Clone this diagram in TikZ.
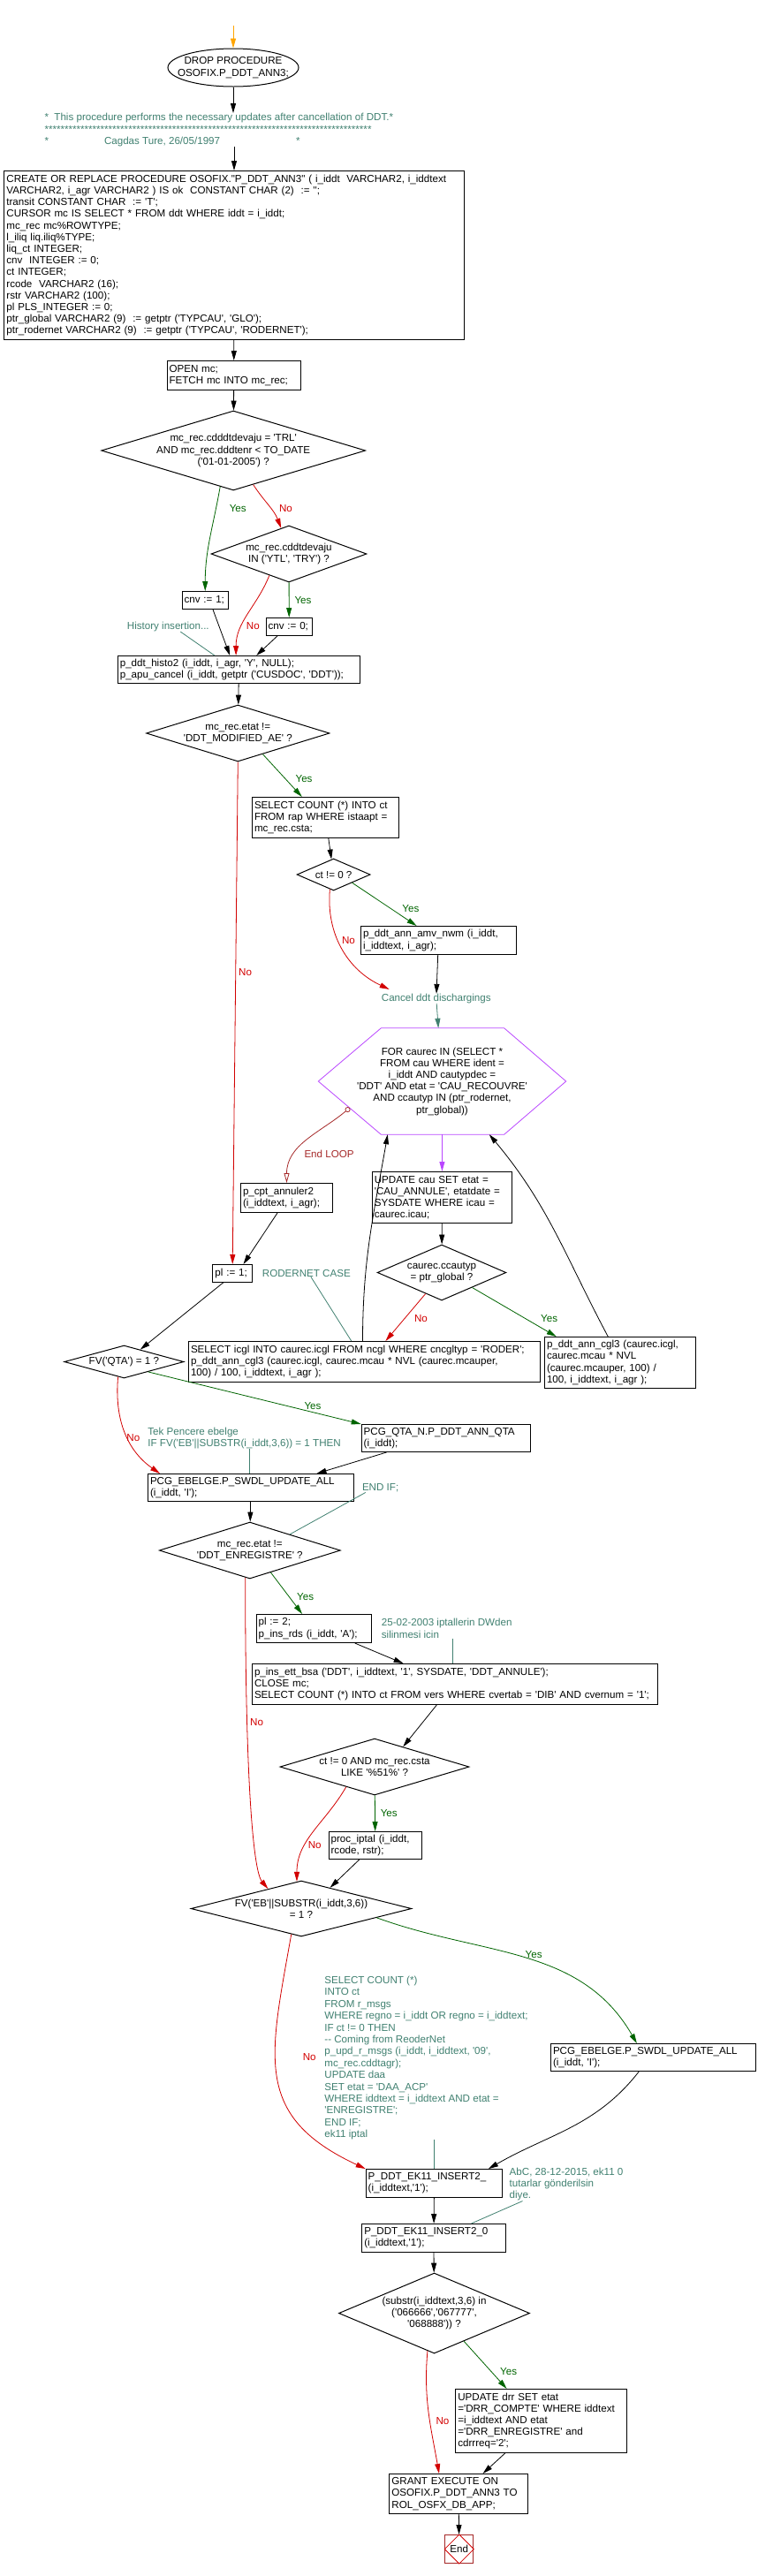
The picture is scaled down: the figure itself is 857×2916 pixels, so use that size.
\documentclass[tikz,border=0pt]{standalone}
\usepackage{fontspec}
\setmainfont{Liberation Sans}[Ligatures=TeXOff]
\usetikzlibrary{arrows.meta,shapes.geometric,calc}
\definecolor{yescol}{RGB}{0,100,0}
\definecolor{nocol}{RGB}{210,0,0}
\definecolor{notecol}{RGB}{64,128,112}
\definecolor{loopcol}{RGB}{185,70,255}
\definecolor{endloopcol}{RGB}{165,40,40}
\definecolor{startcol}{RGB}{255,165,0}
\begin{document}
\begin{tikzpicture}[
        x=1pt, y=-1pt,
        every node/.style={font=\fontsize{11.6}{13.2}\selectfont},
        box/.style={draw, line width=1pt, fill=white, anchor=north west, align=left, inner xsep=2.5pt, inner ysep=0pt},
        cond/.style={diamond, draw, line width=1pt, inner sep=0pt},
        ctext/.style={align=center, inner sep=0pt},
        note/.style={text=notecol, anchor=west, align=left, inner sep=0pt, font=\fontsize{11.6}{13.4}\selectfont},
        lbl/.style={anchor=west, inner sep=0pt},
        ed/.style={line width=0.8pt, -{Triangle[length=11pt,width=6pt]}},
        yesed/.style={ed, yescol},
        noed/.style={ed, nocol},
        noteed/.style={line width=0.8pt, notecol}
      ]
      \useasboundingbox (0,0) rectangle (857,2916);
      \coordinate (entry) at (264,29);
      \node[draw, ellipse, line width=1pt, minimum width=148pt, minimum height=43pt, inner sep=0pt,
        label={[ctext]center:{DROP PROCEDURE\\OSOFIX.P\_DDT\_ANN3;}}] (drop) at (264,76.5) {};
      \node[note] (hdr) at (50.3,147) {*\ \ This procedure performs the necessary updates after cancellation of DDT.*\\
        **********************************************************************************\\
        *\hspace{63pt}Cagdas Ture, 26/05/1997\hspace{86pt}*};
      \node[box, text width=515.2pt, minimum height=191pt] (decl) at (4.4,193) {CREATE OR REPLACE PROCEDURE OSOFIX."P\_DDT\_ANN3" ( i\_iddt\ \ VARCHAR2, i\_iddtext\\
        VARCHAR2, i\_agr VARCHAR2 ) IS ok\ \ CONSTANT CHAR (2)\ \ := '';\\
        transit CONSTANT CHAR\ \ := 'T';\\
        CURSOR mc IS SELECT * FROM ddt WHERE iddt = i\_iddt;\\
        mc\_rec mc\%ROWTYPE;\\
        l\_iliq liq.iliq\%TYPE;\\
        liq\_ct INTEGER;\\
        cnv\ \ INTEGER := 0;\\
        ct INTEGER;\\
        rcode\ \ VARCHAR2 (16);\\
        rstr VARCHAR2 (100);\\
        pl PLS\_INTEGER := 0;\\
        ptr\_global VARCHAR2 (9)\ \ := getptr ('TYPCAU', 'GLO');\\
        ptr\_rodernet VARCHAR2 (9)\ \ := getptr ('TYPCAU', 'RODERNET');};
      \node[box, text width=146.5pt, minimum height=33pt] (openmc) at (188.5,408) {OPEN mc;\\FETCH mc INTO mc\_rec;};
      \node[cond, minimum width=299pt, minimum height=90pt,
        label={[ctext]center:{mc\_rec.cdddtdevaju = 'TRL'\\AND mc\_rec.dddtenr < TO\_DATE\\('01-01-2005') ?}}] (q1) at (264.2,510) {};
      \node[cond, minimum width=176pt, minimum height=64pt,
        label={[ctext]center:{mc\_rec.cddtdevaju\\IN ('YTL', 'TRY') ?}}] (q2) at (327,627) {};
      \node[box, text width=47.5pt, minimum height=19.5pt] (cnv1) at (205.5,669) {cnv := 1;};
      \node[box, text width=47.5pt, minimum height=19.5pt] (cnv0) at (300.5,699) {cnv := 0;};
      \node[note] (hist) at (143.7,709.5) {History insertion...};
      \node[box, text width=269.2pt, minimum height=31pt] (histo2) at (132.8,742) {p\_ddt\_histo2 (i\_iddt, i\_agr, 'Y', NULL);\\p\_apu\_cancel (i\_iddt, getptr ('CUSDOC', 'DDT'));};
      \node[cond, minimum width=207.4pt, minimum height=64pt,
        label={[ctext]center:{mc\_rec.etat !=\\'DDT\_MODIFIED\_AE' ?}}] (q3) at (269.3,830) {};
      \node[box, text width=161pt, minimum height=46pt] (sel1) at (285,902) {SELECT COUNT (*) INTO ct\\FROM rap WHERE istaapt =\\mc\_rec.csta;};
      \node[cond, minimum width=83pt, minimum height=36pt,
        label={[ctext]center:{ct != 0 ?}}] (q4) at (377.6,990) {};
      \node[box, text width=170.6pt, minimum height=32pt] (amv) at (408,1048) {p\_ddt\_ann\_amv\_nwm (i\_iddt,\\i\_iddtext, i\_agr);};
      \node[note] (cancel) at (431.7,1130.5) {Cancel ddt dischargings};
      \node[ctext, minimum width=280pt, minimum height=120pt] (loop) at (500.5,1224) {FOR caurec IN (SELECT *\\FROM cau WHERE ident =\\i\_iddt AND cautypdec =\\'DDT' AND etat = 'CAU\_RECOUVRE'\\AND ccautyp IN (ptr\_rodernet,\\ptr\_global))};
      \node[box, text width=153.2pt, minimum height=58pt] (upd) at (420.8,1326) {UPDATE cau SET etat =\\'CAU\_ANNULE', etatdate =\\SYSDATE WHERE icau =\\caurec.icau;};
      \node[cond, minimum width=145.7pt, minimum height=63pt,
        label={[ctext]center:{caurec.ccautyp\\= ptr\_global ?}}] (q5) at (500,1440.5) {};
      \node[box, text width=99pt, minimum height=33pt] (cpt) at (272,1339) {p\_cpt\_annuler2\\(i\_iddtext, i\_agr);};
      \node[box, text width=39.6pt, minimum height=19.5pt] (pl1) at (240.4,1431) {pl := 1;};
      \node[note] (rodernet) at (296.7,1441) {RODERNET CASE};
      \node[box, text width=393pt, minimum height=46pt] (sel2) at (213,1518) {SELECT icgl INTO caurec.icgl FROM ncgl WHERE cncgltyp = 'RODER';\\p\_ddt\_ann\_cgl3 (caurec.icgl, caurec.mcau * NVL (caurec.mcauper,\\100) / 100, i\_iddtext, i\_agr );};
      \node[box, text width=166pt, minimum height=58pt] (cgl3) at (616,1513) {p\_ddt\_ann\_cgl3 (caurec.icgl,\\caurec.mcau * NVL\\(caurec.mcauper, 100) /\\100, i\_iddtext, i\_agr );};
      \node[cond, minimum width=135.3pt, minimum height=37pt,
        label={[ctext]center:{FV('QTA') = 1 ?}}] (q6) at (140.4,1541.5) {};
      \node[box, text width=185.8pt, minimum height=31pt] (qta) at (408.7,1612) {PCG\_QTA\_N.P\_DDT\_ANN\_QTA\\(i\_iddt);};
      \node[note] (tek) at (167.2,1628) {Tek Pencere ebelge\\IF FV('EB'||SUBSTR(i\_iddt,3,6)) = 1 THEN};
      \node[box, text width=227.5pt, minimum height=31pt] (ebelge1) at (167,1668) {PCG\_EBELGE.P\_SWDL\_UPDATE\_ALL\\(i\_iddt, 'I');};
      \node[note] (endif) at (409.8,1684.5) {END IF;};
      \node[cond, minimum width=205pt, minimum height=64pt,
        label={[ctext]center:{mc\_rec.etat !=\\'DDT\_ENREGISTRE' ?}}] (q7) at (282.8,1755) {};
      \node[box, text width=125.1pt, minimum height=32pt] (pl2) at (289.6,1827) {pl := 2;\\p\_ins\_rds (i\_iddt, 'A');};
      \node[note] (c2502) at (431.7,1843.5) {25-02-2003 iptallerin DWden\\silinmesi icin};
      \node[box, text width=454pt, minimum height=46pt] (ins) at (285,1883) {p\_ins\_ett\_bsa ('DDT', i\_iddtext, '1', SYSDATE, 'DDT\_ANNULE');\\CLOSE mc;\\SELECT COUNT (*) INTO ct FROM vers WHERE cvertab = 'DIB' AND cvernum = '1';};
      \node[cond, minimum width=214pt, minimum height=64pt,
        label={[ctext]center:{ct != 0 AND mc\_rec.csta\\LIKE '\%51\%' ?}}] (q8) at (424,2000) {};
      \node[box, text width=100.4pt, minimum height=31pt] (iptal) at (371.6,2073) {proc\_iptal (i\_iddt,\\rcode, rstr);};
      \node[cond, minimum width=249.6pt, minimum height=63pt,
        label={[ctext]center:{FV('EB'||SUBSTR(i\_iddt,3,6))\\= 1 ?}}] (q9) at (341,2160.5) {};
      \node[box, text width=227pt, minimum height=31pt] (ebelge2) at (623,2313) {PCG\_EBELGE.P\_SWDL\_UPDATE\_ALL\\(i\_iddt, 'I');};
      \node[note] (cmsgs) at (367.2,2329.5) {SELECT COUNT (*)\\INTO ct\\FROM r\_msgs\\WHERE regno = i\_iddt OR regno = i\_iddtext;\\IF ct != 0 THEN\\-- Coming from ReoderNet\\p\_upd\_r\_msgs (i\_iddt, i\_iddtext, '09',\\mc\_rec.cddtagr);\\UPDATE daa\\SET etat = 'DAA\_ACP'\\WHERE iddtext = i\_iddtext AND etat =\\'ENREGISTRE';\\END IF;\\ek11 iptal};
      \node[box, text width=149.6pt, minimum height=32pt] (ins2) at (413.7,2455) {P\_DDT\_EK11\_INSERT2\_\\(i\_iddtext,'1');};
      \node[note] (abc) at (576.5,2472.5) {AbC, 28-12-2015, ek11 0\\tutarlar gönderilsin\\diye.};
      \node[box, text width=157.3pt, minimum height=32pt] (ins3) at (409.3,2517) {P\_DDT\_EK11\_INSERT2\_0\\(i\_iddtext,'1');};
      \node[cond, minimum width=216pt, minimum height=91pt,
        label={[ctext]center:{(substr(i\_iddtext,3,6) in\\('066666','067777',\\'068888')) ?}}] (q10) at (491.5,2618.5) {};
      \node[box, text width=188.4pt, minimum height=72pt] (drr) at (515.3,2704) {UPDATE drr SET etat\\='DRR\_COMPTE' WHERE iddtext\\=i\_iddtext AND etat\\='DRR\_ENREGISTRE' and\\cdrrreq='2';};
      \node[box, text width=151.3pt, minimum height=45pt] (grant) at (440.4,2800) {GRANT EXECUTE ON\\OSOFIX.P\_DDT\_ANN3 TO\\ROL\_OSFX\_DB\_APP;};
      \node[draw=endloopcol, line width=1pt, minimum size=32pt, inner sep=0pt, anchor=north west] (stop) at (503.3,2869) {End};
      \draw[nocol, line width=0.8pt] (stop.north) -- (stop.east) -- (stop.south) -- (stop.west) -- cycle;

      \draw[line width=0.8pt, loopcol] (loop.west) -- ([xshift=71pt]loop.north west) -- ([xshift=-70pt]loop.north east)
        -- (loop.east) -- ([xshift=-70pt]loop.south east) -- ([xshift=71pt]loop.south west) -- cycle;

      \foreach \x/\y/\n in {259.6/576/1, 333.3/680/2, 334.4/882/3, 455.2/1029/4, 612/1492.7/5,
        344.3/1591.7/6, 336/1807.7/7, 430.6/2052.7/8, 594.5/2212.7/9, 566/2685/10} {
        \node[lbl, yescol] (yes\n) at (\x,\y) {Yes};
      }
      \foreach \x/\y/\n in {315.8/576/1, 278.7/709/2, 270/1100.7/3, 386.9/1065/4, 468.9/1492.7/5,
        143.2/1627.7/6, 283/1949.3/7, 348.6/2089/8, 342.6/2329/9, 493.4/2740.7/10} {
        \node[lbl, nocol] (no\n) at (\x,\y) {No};
      }
      \node[lbl, endloopcol] (endloop) at (344.3,1306) {End LOOP};

      \draw[ed, startcol] (entry) -- (drop);
      \draw[ed] (drop) -- (drop.south |- hdr.north);
      \draw[ed] (hdr.south -| decl.north) -- (decl);
      \draw[ed] (decl) -- (openmc);
      \draw[ed] (openmc) -- (q1);
      \draw[yesed] ($(q1.south)!0.1!(q1.west)$) to[out=-100,in=90] (cnv1.north);
      \draw[noed] ($(q1.south)!0.15!(q1.east)$) to[out=-57,in=111] ($(q2.north)!0.1!(q2.west)$);
      \draw[yesed] (q2) -- (cnv0);
      \draw[noed] ($(q2.south)!0.25!(q2.west)$) to[out=-112,in=90] ($(histo2.north west)!0.488!(histo2.north east)$);
      \draw[ed] ($(cnv1.south west)!0.66!(cnv1.south east)$) -- ($(histo2.north west)!0.463!(histo2.north east)$);
      \draw[ed] ($(cnv0.south west)!0.26!(cnv0.south east)$) -- ($(histo2.north west)!0.572!(histo2.north east)$);
      \draw[noteed] ([xshift=14pt]hist.south) -- ($(histo2.north west)!0.4!(histo2.north east)$);
      \draw[ed] (histo2) -- (q3);
      \draw[yesed] ($(q3.south)!0.27!(q3.east)$) -- ($(sel1.north west)!0.34!(sel1.north east)$);
      \draw[noed] (q3.south) -- (pl1.north);
      \draw[ed] (sel1) -- (q4);
      \draw[yesed] ($(q4.south)!0.5!(q4.east)$) -- ($(amv.north west)!0.36!(amv.north east)$);
      \draw[noed] ($(q4.south)!0.1!(q4.west)$) to[out=-95,in=155] ([xshift=9pt,yshift=5pt]cancel.north west);
      \draw[ed] (amv) -- (cancel);
      \draw[ed, notecol] (cancel) -- (loop);
      \draw[ed, loopcol] (loop) -- (upd);
      \draw[ed] (upd) -- (q5);
      \draw[noed] ($(q5.south)!0.25!(q5.west)$) -- ($(sel2.north west)!0.56!(sel2.north east)$);
      \draw[yesed] ($(q5.south)!0.47!(q5.east)$) -- ($(cgl3.north west)!0.08!(cgl3.north east)$);
      \draw[ed] ($(sel2.north west)!0.495!(sel2.north east)$) to[out=90,in=-100] ($(loop.south west)!0.28!(loop.south east)$);
      \draw[ed] ($(cgl3.north west)!0.42!(cgl3.north east)$) to[out=118,in=-50] ($(loop.south west)!0.69!(loop.south east)$);
      \draw[endloopcol, line width=0.8pt, {Circle[open,length=6pt]}-{Triangle[open,length=11pt,width=6pt]}]
        ($(loop.west)!0.5!([xshift=71pt]loop.south west)$) to[out=-140,in=90] (cpt.north);
      \draw[ed] ($(cpt.south west)!0.4!(cpt.south east)$) -- ($(pl1.north west)!0.77!(pl1.north east)$);
      \draw[noteed] ([xshift=5pt]rodernet.south) -- ($(sel2.north west)!0.463!(sel2.north east)$);
      \draw[ed] ($(pl1.south west)!0.28!(pl1.south east)$) -- ($(q6.north)!0.27!(q6.east)$);
      \draw[yesed] ($(q6.south)!0.4!(q6.east)$) -- (qta.north west);
      \draw[noed] ($(q6.south)!0.1!(q6.west)$) to[out=-95,in=145] ($(ebelge1.north west)!0.06!(ebelge1.north east)$);
      \draw[ed] ($(qta.south west)!0.15!(qta.south east)$) -- ($(ebelge1.north west)!0.82!(ebelge1.north east)$);
      \draw[noteed] ([xshift=6pt]tek.south) -- ([xshift=6pt]tek.south |- ebelge1.north);
      \draw[ed] (ebelge1) -- (q7);
      \draw[noteed] ([xshift=4pt]endif.south west) -- ($(q7.north)!0.44!(q7.east)$);
      \draw[yesed] ($(q7.south)!0.23!(q7.east)$) -- ($(pl2.north west)!0.4!(pl2.north east)$);
      \draw[noed] ($(q7.south)!0.05!(q7.west)$) to[out=-90,in=130,out distance=240pt,in distance=25pt] ($(q9.north)!0.3!(q9.west)$);
      \draw[noteed] ([xshift=7pt]c2502.south) -- ([xshift=7pt]c2502.south |- ins.north);
      \draw[ed] ($(pl2.south west)!0.855!(pl2.south east)$) -- ($(ins.north west)!0.373!(ins.north east)$);
      \draw[ed] ($(ins.south west)!0.455!(ins.south east)$) -- ($(q8.north)!0.3!(q8.east)$);
      \draw[yesed] (q8) -- (iptal);
      \draw[noed] ($(q8.south)!0.3!(q8.west)$) to[out=-120,in=90] ($(q9.north)!0.04!(q9.west)$);
      \draw[ed] ($(iptal.south west)!0.33!(iptal.south east)$) -- ($(q9.north)!0.26!(q9.east)$);
      \draw[yesed] ($(q9.south)!0.68!(q9.east)$) to[out=-20,in=120] ($(ebelge2.north west)!0.42!(ebelge2.north east)$);
      \draw[noteed] (ins2.north |- cmsgs.south) -- (ins2.north);
      \draw[noed] ($(q9.south)!0.09!(q9.west)$) to[out=-100,in=155,looseness=1.3] (ins2.north west);
      \draw[ed] ($(ebelge2.south west)!0.43!(ebelge2.south east)$) to[out=-128,in=30] ($(ins2.north west)!0.895!(ins2.north east)$);
      \draw[ed] (ins2) -- (ins3);
      \draw[noteed] ([xshift=15pt]abc.south west) -- ($(ins3.north west)!0.76!(ins3.north east)$);
      \draw[ed] (ins3) -- (q10);
      \draw[yesed] ($(q10.south)!0.31!(q10.east)$) -- ($(drr.north west)!0.3!(drr.north east)$);
      \draw[noed] ($(q10.south)!0.07!(q10.west)$) to[out=-95,in=100] ($(grant.north west)!0.36!(grant.north east)$);
      \draw[ed] ($(drr.south west)!0.29!(drr.south east)$) -- ($(grant.north west)!0.675!(grant.north east)$);
      \draw[ed] (grant) -- (stop);
    \end{tikzpicture}
\end{document}
